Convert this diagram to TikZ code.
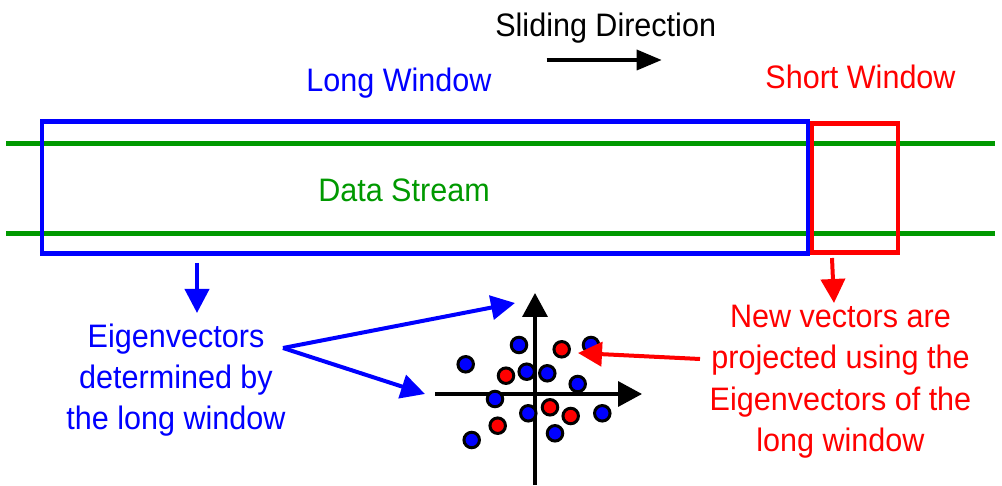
\documentclass[tikz,border=0pt]{standalone}
\usepackage{fontspec}
\setmainfont{Liberation Sans}[FakeStretch=0.94]
\usetikzlibrary{arrows.meta}
\definecolor{winblue}{RGB}{0,0,255}
\definecolor{winred}{RGB}{255,0,0}
\definecolor{streamgreen}{RGB}{0,153,0}
\tikzset{
  labeltext/.style={inner sep=0pt, anchor=base, align=center, font=\fontsize{32.5}{41.5}\selectfont},
  bigarrow/.style={line width=4pt, -{Triangle[length=24pt,width=24pt]}},
  axisarrow/.style={line width=3.5pt, -{Triangle[length=24pt,width=25pt]}},
  dot/.style={circle, draw=black, line width=3pt, minimum size=15.5pt, inner sep=0pt},
}
\begin{document}
\begin{tikzpicture}[x=1pt,y=-1pt]
            \useasboundingbox (0,0) rectangle (1002,486); % page of 1002 x 486

            % Data stream
            \draw[streamgreen, line width=5.5pt] (6,143.7) -- (995,143.7); % Upper line
            \draw[streamgreen, line width=5.5pt] (6,233.7) -- (995,233.7); % Lower line
            \node (data) at (404,201.5) [labeltext, text=streamgreen] {Data Stream}; % Text Node data

            % Windows
            \draw[winblue, line width=4.5pt] (42,121.5) rectangle (808,253.5); % Long window
            \draw[winred, line width=4.5pt] (812,123.5) rectangle (898,252.5); % Short window
            \node (long) at (399,91.5) [labeltext, text=winblue] {Long Window}; % Text Node long
            \node (short) at (860.5,89) [labeltext, text=winred] {Short Window}; % Text Node short

            % Sliding direction
            \node (slide) at (605.7,36.7) [labeltext] {Sliding Direction}; % Text Node slide
            \coordinate (slidefrom) at (546.7,60);
            \coordinate (slideto) at (661.7,60);
            \draw[line width=3.5pt, -{Triangle[length=25pt,width=20pt]}] (slidefrom) -- (slideto); % Arrow

            % Eigenvectors (blue)
            \node (eig) at (176,430) [labeltext, text=winblue] {Eigenvectors\\determined by\\the long window}; % Text Node eig (base = last line)
            \coordinate (longdrop) at (197,263);
            \coordinate (eigtop) at (197,313);
            \coordinate (eigfork) at (283,348);
            \coordinate (ytip) at (515,303);
            \coordinate (xtip) at (425,394);
            \draw[winblue, bigarrow] (longdrop) -- (eigtop); % Down from long window
            \draw[winblue, bigarrow, line join=miter] (eigfork) -- (ytip); % To upper axis
            \draw[winblue, bigarrow] (eigfork) -- (xtip); % To lower axis

            % Projection axes
            \coordinate (ybot) at (535,485);
            \coordinate (ytop) at (535,293);
            \coordinate (xleft) at (435,394);
            \coordinate (xright) at (642,394);
            \draw[axisarrow] (ybot) -- (ytop); % Y-Axis
            \draw[axisarrow] (xleft) -- (xright); % X-Axis

            % Points
            \foreach \px/\py [count=\i] in {519/345, 591/345, 465.7/364.3, 526.7/371.7, 547.3/373.3, 577.7/384, 495/399, 528.3/413.3, 602.3/413.3, 555/433.3, 471.7/440}
              \node (b\i) at (\px,\py) [dot, fill=winblue] {}; % Blue points
            \foreach \px/\py [count=\i] in {561.7/349.3, 506/375.7, 550/407.3, 570.7/416, 497.7/425.7}
              \node (r\i) at (\px,\py) [dot, fill=winred] {}; % Red points

            % New vectors (red)
            \node (newv) at (840.5,451.7) [labeltext, text=winred] {New vectors are\\projected using the\\Eigenvectors of the\\long window}; % Text Node newv (base = last line)
            \coordinate (shortdrop) at (832,258);
            \coordinate (newvtop) at (834,303);
            \coordinate (newvfrom) at (700,359);
            \coordinate (newvto) at (578,353);
            \draw[winred, bigarrow] (shortdrop) -- (newvtop); % Down from short window
            \draw[winred, bigarrow] (newvfrom) -- (newvto); % To the points
\end{tikzpicture}
\end{document}
